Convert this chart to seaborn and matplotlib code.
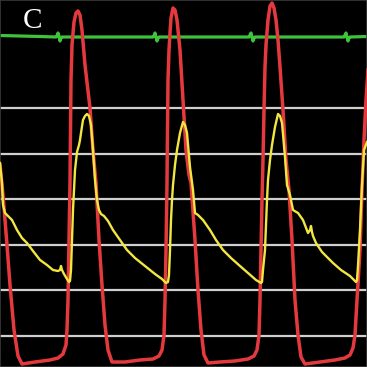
import matplotlib
matplotlib.use("Agg")
import matplotlib.pyplot as plt
import seaborn as sns
import pandas as pd

# time axis in screen samples, signal level in screen rows (0 at top)
red_t = [0, 3, 7, 10, 14, 18, 22, 35, 50, 58, 63, 66, 67, 68, 69, 70, 70.5, 71, 72, 74, 76, 78, 80, 82, 85, 90, 93, 96,
         99, 102, 105, 108, 112, 125, 140, 153, 159, 162, 164, 165, 166, 167, 167.5, 168, 169, 170, 171, 173, 175, 177,
         180, 183, 186, 189, 191, 195, 198, 201, 204, 208, 220, 235, 248, 254, 257, 259, 260, 261, 262, 263, 264, 265,
         266, 268, 270, 272, 274, 276, 278, 280, 283, 286, 289, 292, 295, 298, 301, 305, 320, 335, 345, 350, 353, 355,
         357, 360, 362, 364, 366, 368]
red_v = [165, 195, 245, 285, 330, 356, 364, 362, 360, 358, 354, 345, 330, 300, 240, 183, 130, 80, 45, 22, 13, 11, 15,
         30, 65, 108, 150, 183, 240, 285, 325, 350, 362, 362, 360, 359, 356, 350, 335, 300, 250, 183, 130, 80, 50, 33,
         18, 8, 10, 20, 50, 100, 150, 175, 183, 240, 290, 330, 355, 363, 362, 361, 359, 356, 350, 335, 300, 250, 200,
         160, 110, 67, 45, 20, 6, 3, 8, 20, 40, 67, 110, 160, 190, 240, 300, 335, 357, 364, 362, 360, 358, 355, 348,
         335, 300, 250, 190, 140, 100, 70]

yel_t = [0, 2, 3, 5, 8, 12, 17, 22, 27, 33, 40, 47, 53, 58, 60, 61, 62, 64, 67, 69, 70, 71, 72, 73, 75, 77, 79, 80, 81,
         83, 85, 87, 89, 91, 93, 95, 97, 99, 101, 104, 108, 113, 120, 127, 135, 145, 155, 162, 166, 168, 169, 170, 171,
         172, 173, 175, 177, 180, 183, 185, 187, 190, 193, 195, 198, 203, 210, 216, 223, 231, 240, 248, 256, 261, 262,
         263, 265, 267, 268, 270, 272, 275, 278, 280, 282, 285, 287, 290, 293, 298, 303, 308, 310, 311, 312, 313, 316,
         322, 333, 341, 350, 356, 357, 358, 360, 362, 364, 367]
yel_v = [163, 183, 205, 213, 216, 220, 230, 238, 243, 251, 260, 265, 270, 271, 270, 266, 270, 274, 279, 282, 281, 270,
         240, 210, 170, 152, 145, 140, 133, 120, 116, 114, 116, 125, 150, 180, 200, 210, 214, 216, 221, 230, 240, 250,
         258, 266, 274, 279, 283, 282, 275, 250, 220, 200, 185, 165, 150, 133, 122, 125, 133, 167, 190, 213, 215, 220,
         230, 240, 250, 258, 266, 273, 280, 283, 282, 270, 250, 200, 180, 160, 145, 127, 114, 116, 123, 157, 185, 195,
         210, 213, 220, 233, 230, 226, 232, 236, 243, 252, 263, 270, 276, 282, 280, 266, 230, 185, 150, 142]

grn_t = [0, 20, 40, 56, 57, 58, 59, 60, 61, 62, 100, 153, 154, 155, 156, 157, 158, 159, 200, 249, 250, 251, 252, 253,
         254, 255, 300, 344, 345, 346, 347, 348, 349, 350, 367]
grn_v = [35.5, 36, 36.5, 37, 36, 33, 36, 41, 38, 37, 37, 37, 36, 33, 37, 41, 38, 37, 37, 37, 35, 33, 37, 41, 38, 37,
         37, 37, 35, 33, 37, 41, 38, 37, 36.5]

grid_levels = [108, 154, 199, 245, 290, 336]
label = "C"

fig = plt.figure(figsize=(3.67, 3.67), dpi=100)
ax = fig.add_axes([0, 0, 1, 1])
fig.patch.set_facecolor("black")
ax.set_facecolor("black")

for g in grid_levels:
    ax.axhline(g, color="#cfcfcf", lw=1.6, zorder=1)

sns.lineplot(data=pd.DataFrame({"t": grn_t, "v": grn_v}), x="t", y="v", sort=False, estimator=None,
             color="#3fc23c", lw=2.3, ax=ax, zorder=2)
sns.lineplot(data=pd.DataFrame({"t": red_t, "v": red_v}), x="t", y="v", sort=False, estimator=None,
             color="#e53a3d", lw=2.5, ax=ax, zorder=3)
sns.lineplot(data=pd.DataFrame({"t": yel_t, "v": yel_v}), x="t", y="v", sort=False, estimator=None,
             color="#f2e640", lw=1.7, ax=ax, zorder=4)

ax.text(33, 21, label, color="white", fontsize=21, family="Liberation Serif", ha="center", va="center", zorder=5)

ax.set_xlim(0, 367)
ax.set_ylim(367, 0)
ax.set_xticks([])
ax.set_yticks([])
ax.set_xlabel("")
ax.set_ylabel("")
for s in ax.spines.values():
    s.set_color("#3a3a3a")
    s.set_linewidth(1.2)

fig.savefig("out.png", dpi=100, facecolor="black")
